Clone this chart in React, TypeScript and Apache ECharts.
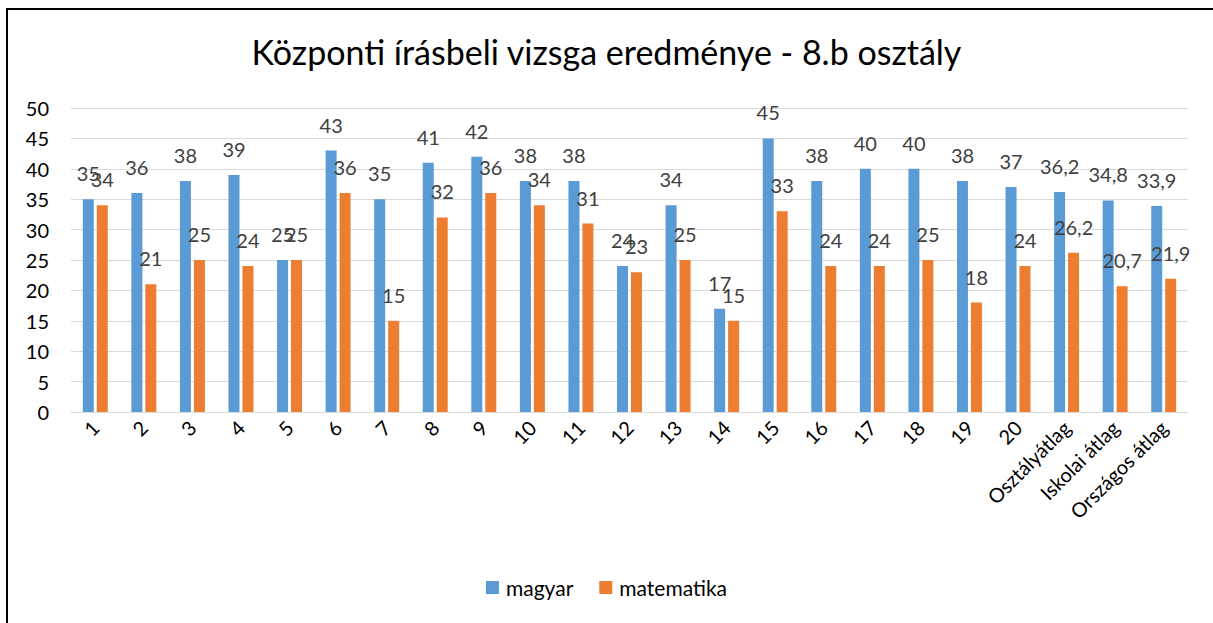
import React, { useEffect, useRef } from "react";
import * as echarts from "echarts";

const categories = ["1","2","3","4","5","6","7","8","9","10","11","12","13","14","15","16","17","18","19","20","Osztályátlag","Iskolai átlag","Országos átlag"];
const magyar = [35,36,38,39,25,43,35,41,42,38,38,24,34,17,45,38,40,40,38,37,36.2,34.8,33.9];
const matematika = [34,21,25,24,25,36,15,32,36,34,31,23,25,15,33,24,24,25,18,24,26.2,20.7,21.9];
const yTicks = { min: 0, max: 50, interval: 5 };

const FONT = "Lato, 'Open Sans', sans-serif";
const fmt = (v: number) => String(v).replace(".", ",");

export default function App() {
  const ref = useRef<HTMLDivElement>(null);
  useEffect(() => {
    document.body.style.margin = "0";
    document.body.style.overflow = "hidden";
    const chart = echarts.init(ref.current!, null, { renderer: "svg" });
    const labelStyle = {
      show: true,
      position: "top" as const,
      distance: 16,
      fontSize: 20,
      fontFamily: FONT,
      color: "#404040",
      formatter: (p: any) => fmt(p.value),
    };
    chart.setOption({
      animation: false,
      backgroundColor: "#fff",
      title: {
        text: "Központi írásbeli vizsga eredménye - 8.b osztály",
        left: "center",
        top: 29,
        textStyle: { fontFamily: FONT, fontSize: 34, fontWeight: "normal", color: "#000" },
      },
      legend: {
        top: 572,
        left: "center",
        itemWidth: 13,
        itemHeight: 13,
        itemGap: 26,
        icon: "rect",
        textStyle: { fontFamily: FONT, fontSize: 21, color: "#000", padding: [0, 0, 0, 2] },
        data: ["magyar", "matematika"],
      },
      grid: { left: 71, right: 25, top: 108, bottom: 211, containLabel: false },
      xAxis: {
        type: "category",
        data: categories,
        axisLine: { lineStyle: { color: "#d9d9d9", width: 1 } },
        axisTick: { show: false },
        axisLabel: {
          rotate: 45,
          interval: 0,
          margin: 12,
          fontFamily: FONT,
          fontSize: 20,
          color: "#000",
        },
      },
      yAxis: {
        type: "value",
        min: yTicks.min,
        max: yTicks.max,
        interval: yTicks.interval,
        axisLine: { show: false },
        axisTick: { show: false },
        splitLine: { lineStyle: { color: "#d9d9d9", width: 1 } },
        axisLabel: { margin: 22, fontFamily: FONT, fontSize: 20, color: "#000" },
      },
      series: [
        {
          name: "magyar",
          type: "bar",
          data: magyar,
          barWidth: 11,
          barGap: "27%",
          itemStyle: { color: "#5b9bd5" },
          label: labelStyle,
        },
        {
          name: "matematika",
          type: "bar",
          data: matematika,
          barWidth: 11,
          barGap: "27%",
          itemStyle: { color: "#ed7d31" },
          label: labelStyle,
        },
      ],
    });
    return () => chart.dispose();
  }, []);
  return (
    <div style={{ position: "relative", width: 1213, height: 623, overflow: "hidden" }}>
      <div ref={ref} style={{ position: "absolute", left: 0, top: 0, width: 1213, height: 623 }} />
      <div
        style={{
          position: "absolute",
          left: 6,
          top: 8,
          width: 1230,
          height: 640,
          border: "2px solid #000",
          boxSizing: "border-box",
          pointerEvents: "none",
        }}
      />
    </div>
  );
}
